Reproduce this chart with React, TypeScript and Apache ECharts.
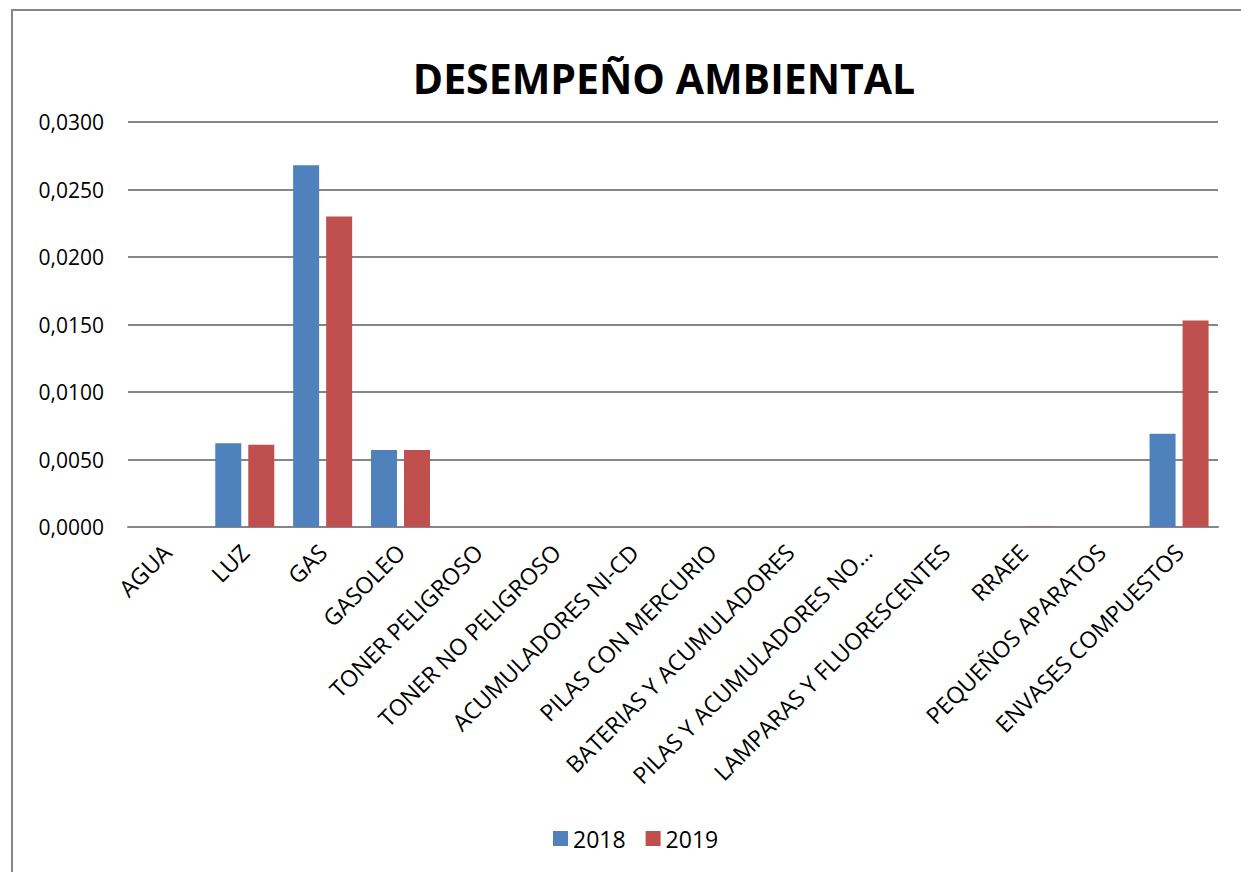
import React, { useEffect, useRef } from "react";
import * as echarts from "echarts";

const categories = [
  "AGUA",
  "LUZ",
  "GAS",
  "GASOLEO",
  "TONER PELIGROSO",
  "TONER NO PELIGROSO",
  "ACUMULADORES NI-CD",
  "PILAS CON MERCURIO",
  "BATERIAS Y ACUMULADORES",
  "PILAS Y ACUMULADORES NO…",
  "LAMPARAS Y FLUORESCENTES",
  "RRAEE",
  "PEQUEÑOS APARATOS",
  "ENVASES COMPUESTOS",
];
const values2018 = [0, 0.0062, 0.0268, 0.0057, 0, 0, 0, 0, 0, 0, 0, 0, 0, 0.0069];
const values2019 = [0, 0.0061, 0.023, 0.0057, 0, 0, 0, 0, 0, 0, 0, 0.00003, 0, 0.0153];
const seriesNames = ["2018", "2019"];

const FONT = "'Open Sans', 'Liberation Sans', sans-serif";

export default function App() {
  const ref = useRef<HTMLDivElement>(null);
  useEffect(() => {
    if (!ref.current) return;
    const chart = echarts.init(ref.current, undefined, { renderer: "svg" });
    chart.setOption({
      animation: false,
      backgroundColor: "#ffffff",
      title: {
        text: "DESEMPEÑO AMBIENTAL",
        left: 659,
        textAlign: "center",
        top: 52,
        textStyle: { fontFamily: FONT, fontSize: 41, fontWeight: "bold", color: "#000" },
      },
      legend: {
        bottom: 17,
        left: 548,
        itemWidth: 15,
        itemHeight: 15,
        itemGap: 20,
        icon: "rect",
        textStyle: { fontFamily: FONT, fontSize: 23, color: "#000" },
        data: seriesNames,
      },
      grid: { left: 128, right: 23, top: 122, bottom: 345, containLabel: false },
      xAxis: {
        type: "category",
        data: categories,
        axisLine: { show: true, lineStyle: { color: "#868686", width: 2 } },
        axisTick: { show: false },
        axisLabel: {
          interval: 0,
          rotate: 45,
          margin: 21,
          fontFamily: FONT,
          fontSize: 23,
          color: "#000",
        },
      },
      yAxis: {
        type: "value",
        min: 0,
        max: 0.03,
        interval: 0.005,
        axisLine: { show: false },
        axisTick: { show: false },
        splitLine: { lineStyle: { color: "#868686", width: 2 } },
        axisLabel: {
          margin: 24,
          fontFamily: FONT,
          fontSize: 21,
          color: "#000",
          formatter: (v: number) => v.toFixed(4).replace(".", ","),
        },
      },
      series: [
        {
          name: seriesNames[0],
          type: "bar",
          data: values2018,
          barWidth: 26,
          barGap: "27%",
          itemStyle: { color: "#4F81BD" },
        },
        {
          name: seriesNames[1],
          type: "bar",
          data: values2019,
          barWidth: 26,
          itemStyle: { color: "#C0504D" },
        },
      ],
    });
    return () => chart.dispose();
  }, []);
  return (
    <div style={{ position: "fixed", left: 0, top: 0, width: 1241, height: 872, background: "#fff", overflow: "hidden" }}>
      <div ref={ref} style={{ position: "absolute", left: 0, top: 0, width: 1241, height: 872 }} />
      <div
        style={{
          position: "absolute",
          left: 11,
          top: 9,
          width: 1260,
          height: 900,
          border: "2px solid #868686",
          boxSizing: "border-box",
          pointerEvents: "none",
        }}
      />
    </div>
  );
}
